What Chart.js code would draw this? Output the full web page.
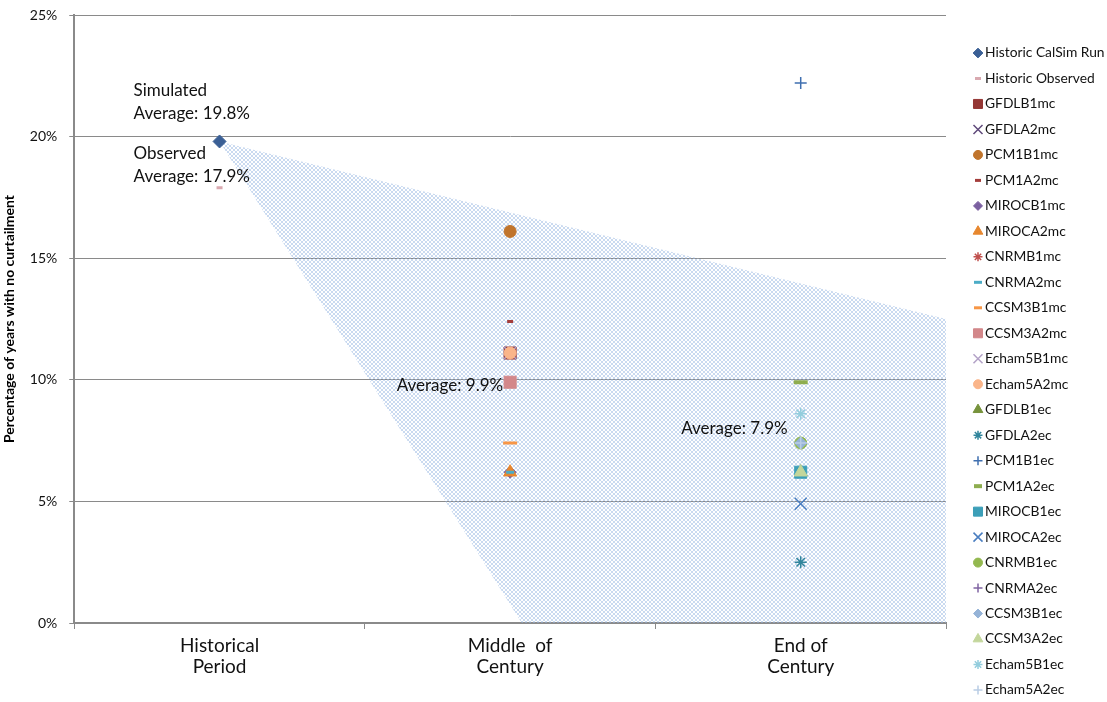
<!DOCTYPE html>
<html>
<head>
<meta charset="utf-8">
<title>Percentage of years with no curtailment</title>
<script src="https://cdn.jsdelivr.net/npm/chart.js@4.4.1/dist/chart.umd.min.js"></script>
<style>
  html, body { margin: 0; padding: 0; background: #fff; }
  #wrap { width: 1107px; height: 702px; }
</style>
</head>
<body>
<div id="wrap"><canvas id="chart"></canvas></div>
<script>
// ---- data ----
const categories = [["Historical", "Period"], ["Middle  of", "Century"], ["End of", "Century"]];
const yTicks = [0, 5, 10, 15, 20, 25];

const historicNames = ["Historic CalSim Run", "Historic Observed"];
const historicValues = [19.8, 17.9];

const models = ["GFDLB1", "GFDLA2", "PCM1B1", "PCM1A2", "MIROCB1", "MIROCA2",
                "CNRMB1", "CNRMA2", "CCSM3B1", "CCSM3A2", "Echam5B1", "Echam5A2"];
const midCentury = [11.1, 11.1, 16.1, 12.4, 6.2, 6.2, 11.1, 6.2, 7.4, 9.9, 11.1, 11.1];
const endCentury = [6.2, 2.5, 22.2, 9.9, 6.2, 4.9, 7.4, 7.4, 7.4, 6.2, 8.6, 7.4];

// averages written on the chart, and the category they belong to
const averages = [19.8, 17.9, 9.9, 7.9];
const averageCat = [0, 0, 1, 2];
const averageTitle = ["Simulated", "Observed", null, null];

// outline of the shaded spread of projections (x in category units)
const bandX = [0.5, 3, 3, 1.54];
const bandY = [19.8, 12.5, 0, 0];

// ---- styles ----
// [pointStyle, colour, radius, borderWidth]
const markers = [
  ["rectRot",  "#3A5F95", 6.5, 1],
  ["line",     "#D9A9B0", 3,   3],
  ["rect",     "#953735", 8.5, 1],
  ["crossRot", "#604A7B", 8.5, 1.5],
  ["circle",   "#C0742C", 6,   1],
  ["line",     "#A43D3B", 3,   3],
  ["rectRot",  "#7A5FA0", 6,   1],
  ["triangle", "#E7872E", 7.5, 1],
  ["star",     "#C0504D", 6,   1.5],
  ["line",     "#4BACC6", 4,   3],
  ["line",     "#F79646", 7,   3],
  ["rect",     "#D3878A", 8.5, 1],
  ["crossRot", "#B3A2C7", 8.5, 1.5],
  ["circle",   "#FAB58A", 6,   1],
  ["triangle", "#77933C", 7.5, 1],
  ["star",     "#31859C", 6,   1.5],
  ["cross",    "#3F6FB0", 6,   1.5],
  ["line",     "#8EAD4F", 7,   4],
  ["rect",     "#3C9FB8", 8.5, 1],
  ["crossRot", "#4A7EC0", 8.5, 1.5],
  ["circle",   "#93B84F", 6,   1],
  ["cross",    "#8064A2", 6,   1.5],
  ["rectRot",  "#95B3D7", 6,   1],
  ["triangle", "#C3D69B", 7.5, 1],
  ["star",     "#93CDDD", 6,   1.5],
  ["cross",    "#B9CDE5", 6,   1.5]
];
const FONT = "Lato, 'Open Sans', sans-serif";

const canvas = document.getElementById("chart");
const ctx = canvas.getContext("2d");

function hatchPattern() {
  const c = document.createElement("canvas");
  c.width = 4; c.height = 4;
  const g = c.getContext("2d");
  g.fillStyle = "rgba(150,182,226,0.5)";
  for (let i = 0; i < 4; i++) {
    g.fillRect(i, i, 1, 1);
    g.fillRect(3 - i, i, 1, 1);
  }
  return ctx.createPattern(c, "repeat");
}

const catX = i => i + 0.5;

const seriesLabels = historicNames.concat(models.map(m => m + "mc"), models.map(m => m + "ec"));
const seriesPoints = historicValues.map(v => [{x: catX(0), y: v}])
  .concat(midCentury.map(v => [{x: catX(1), y: v}]),
          endCentury.map(v => [{x: catX(2), y: v}]));

const pointSets = seriesLabels.map((label, i) => {
  const [style, colour, radius, width] = markers[i];
  return {
    label: label,
    data: seriesPoints[i],
    showLine: false,
    fill: false,
    pointStyle: style,
    pointRadius: radius,
    pointHoverRadius: radius,
    pointBackgroundColor: colour,
    pointBorderColor: colour,
    pointBorderWidth: width,
    backgroundColor: colour,
    borderColor: colour,
    order: seriesLabels.length - i   // later series drawn on top, as in the original
  };
});

const bandSet = {
  label: "spread",
  data: bandX.map((x, i) => ({x: x, y: bandY[i]})),
  showLine: true,
  fill: "shape",
  backgroundColor: hatchPattern(),
  borderColor: "rgba(0,0,0,0)",
  borderWidth: 0,
  pointRadius: 0,
  tension: 0,
  order: 100
};

// legend on the right, drawn with the library's point renderer
const sideLegend = {
  id: "sideLegend",
  afterDraw(chart) {
    const c = chart.ctx;
    const mx = chart.chartArea.right + 32;
    const top = 53, step = 25.48;
    c.save();
    c.font = "13.8px " + FONT;
    c.textBaseline = "middle";
    c.textAlign = "left";
    pointSets.forEach((ds, i) => {
      const [style, colour, radius, width] = markers[i];
      const y = top + i * step;
      c.fillStyle = colour;
      c.strokeStyle = colour;
      c.lineWidth = width;
      let r = radius * 0.75;
      if (style === "line") r = Math.min(radius, 4);
      Chart.helpers.drawPoint(c, {pointStyle: style, radius: r, borderWidth: width, rotation: 0}, mx, y);
      c.fillStyle = "#111";
      c.fillText(ds.label, mx + 7, y);
    });
    c.restore();
  }
};

// average labels next to the points
const averageNotes = {
  id: "averageNotes",
  afterDatasetsDraw(chart) {
    const c = chart.ctx;
    const xs = chart.scales.x, ys = chart.scales.y;
    c.save();
    c.font = "17px " + FONT;
    c.fillStyle = "#111";
    c.textBaseline = "middle";
    averages.forEach((v, i) => {
      const px = xs.getPixelForValue(catX(averageCat[i]));
      const py = ys.getPixelForValue(v);
      const text = "Average: " + v.toFixed(1) + "%";
      if (averageTitle[i]) {
        const y0 = i === 0 ? py - 51 : py - 34;
        c.textAlign = "left";
        c.fillText(averageTitle[i], px - 86, y0);
        c.fillText(text, px - 86, y0 + 23);
      } else {
        c.textAlign = "right";
        c.fillText(text, px - (averageCat[i] === 1 ? 7 : 13), i === 2 ? py + 3 : py - 2);
      }
    });
    c.restore();
  }
};

new Chart(ctx, {
  type: "line",
  data: { datasets: [bandSet].concat(pointSets) },
  options: {
    responsive: true,
    maintainAspectRatio: false,
    animation: false,
    layout: { padding: { left: 0, right: 161, top: 2, bottom: 19 } },
    plugins: {
      legend: { display: false },
      tooltip: { enabled: false }
    },
    scales: {
      x: {
        type: "linear",
        min: 0,
        max: categories.length,
        afterBuildTicks: s => {
          const t = [];
          for (let v = 0; v <= categories.length; v += 0.5) t.push({value: v});
          s.ticks = t;
        },
        ticks: {
          autoSkip: false,
          maxRotation: 0,
          padding: 6,
          color: "#111",
          font: { family: FONT, size: 19, lineHeight: "21px" },
          callback: v => Number.isInteger(v) ? "" : categories[v - 0.5]
        },
        grid: {
          drawOnChartArea: false,
          tickLength: 6,
          color: c => (c.tick && Number.isInteger(c.tick.value)) ? "#8a8a8a" : "rgba(0,0,0,0)"
        },
        border: { color: "#8a8a8a", width: 2 }
      },
      y: {
        type: "linear",
        min: 0,
        max: 25,
        afterBuildTicks: s => { s.ticks = yTicks.map(v => ({value: v})); },
        ticks: {
          padding: 12,
          color: "#111",
          font: { family: FONT, size: 14, lineHeight: "6px" },
          callback: v => v + "%"
        },
        grid: { color: "#8a8a8a", tickLength: 5 },
        border: { color: "#8a8a8a", width: 2 },
        title: {
          display: true,
          text: "Percentage of years with no curtailment",
          color: "#000",
          font: { family: FONT, size: 14, weight: "bold" },
          padding: { top: 1, bottom: 0 }
        }
      }
    }
  },
  plugins: [averageNotes, sideLegend]
});
</script>
</body>
</html>
